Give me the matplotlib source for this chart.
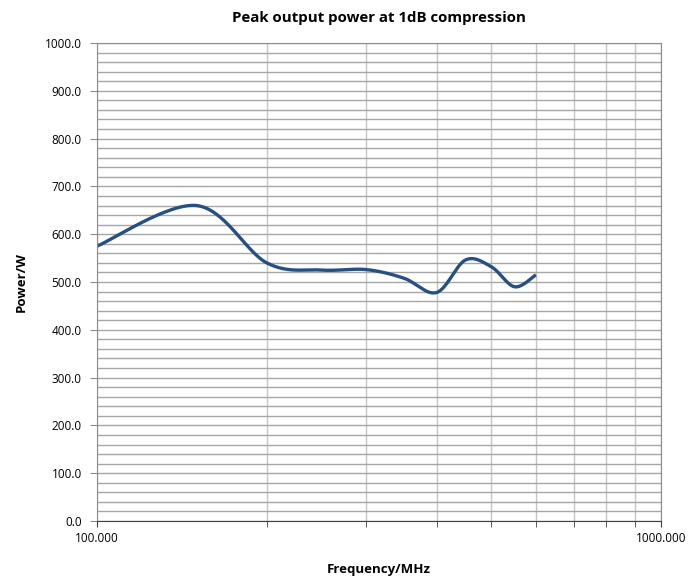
import numpy as np
import matplotlib
matplotlib.use("Agg")
import matplotlib.pyplot as plt
from matplotlib.ticker import FixedLocator, FuncFormatter, MultipleLocator, NullFormatter

freq_mhz = [100, 150, 200, 250, 300, 350, 400, 450, 500, 550, 600]
power_w = [575, 660, 540, 525, 526, 508, 478, 546, 532, 490, 515]
x_tick_labels = ["100.000", "1000.000"]

plt.rcParams['font.family'] = ['Open Sans', 'DejaVu Sans']

def catmull_rom(xs, ys, n=30):
    pts = np.column_stack([xs, ys])
    P = np.vstack([pts[0], pts, pts[-1]])
    out = []
    for i in range(1, len(P) - 2):
        p0, p1, p2, p3 = P[i - 1], P[i], P[i + 1], P[i + 2]
        c1 = p1 + (p2 - p0) / 6.0
        c2 = p2 - (p3 - p1) / 6.0
        t = np.linspace(0, 1, n, endpoint=(i == len(P) - 3))[:, None]
        seg = ((1 - t) ** 3) * p1 + 3 * ((1 - t) ** 2) * t * c1 + 3 * (1 - t) * t ** 2 * c2 + t ** 3 * p2
        out.append(seg)
    out = np.vstack(out)
    return out[:, 0], out[:, 1]

lx, sy = catmull_rom(np.log10(freq_mhz), np.array(power_w, float))
sx = 10 ** lx

fig = plt.figure(figsize=(6.93, 5.8), dpi=100)
ax = fig.add_axes([97 / 693, 59 / 580, 564 / 693, 478 / 580])
ax.set_xscale('log')
ax.set_xlim(100, 1000)
ax.set_ylim(0, 1000)

ax.yaxis.set_major_locator(MultipleLocator(100))
ax.yaxis.set_minor_locator(MultipleLocator(20))
ax.yaxis.set_major_formatter(FuncFormatter(lambda v, p: f"{v:.1f}"))
ax.xaxis.set_major_locator(FixedLocator([100, 1000]))
ax.xaxis.set_major_formatter(FuncFormatter(lambda v, p: x_tick_labels[0] if v < 500 else x_tick_labels[1]))
ax.xaxis.set_minor_locator(FixedLocator([200, 300, 400, 500, 600, 700, 800, 900]))
ax.xaxis.set_minor_formatter(NullFormatter())

ax.grid(True, which='both', axis='y', color='#a6a6a6', linewidth=1.0)
ax.grid(True, which='both', axis='x', color='#c4c4c4', linewidth=1.0)
ax.set_axisbelow(True)

for s in ['top', 'right', 'left']:
    ax.spines[s].set_color('#8c8c8c')
ax.spines['bottom'].set_color('#404040')
ax.tick_params(axis='y', which='major', length=5, color='#8c8c8c', labelsize=8.5, pad=6)
ax.tick_params(axis='y', which='minor', length=0)
ax.tick_params(axis='x', which='both', length=4, color='#404040', labelsize=8.5, pad=4)

ax.plot(sx, sy, color='#264f82', linewidth=2.4, solid_capstyle='butt')

fig.text(379 / 693, 1 - 18 / 580, "Peak output power at 1dB compression", ha='center', va='center',
         fontsize=10.8, fontweight='bold')
ax.set_xlabel("Frequency/MHz", fontsize=9.5, fontweight='bold', labelpad=13)
ax.set_ylabel("Power/W", fontsize=9.5, fontweight='bold', labelpad=12)

fig.savefig("out.png", dpi=100)
